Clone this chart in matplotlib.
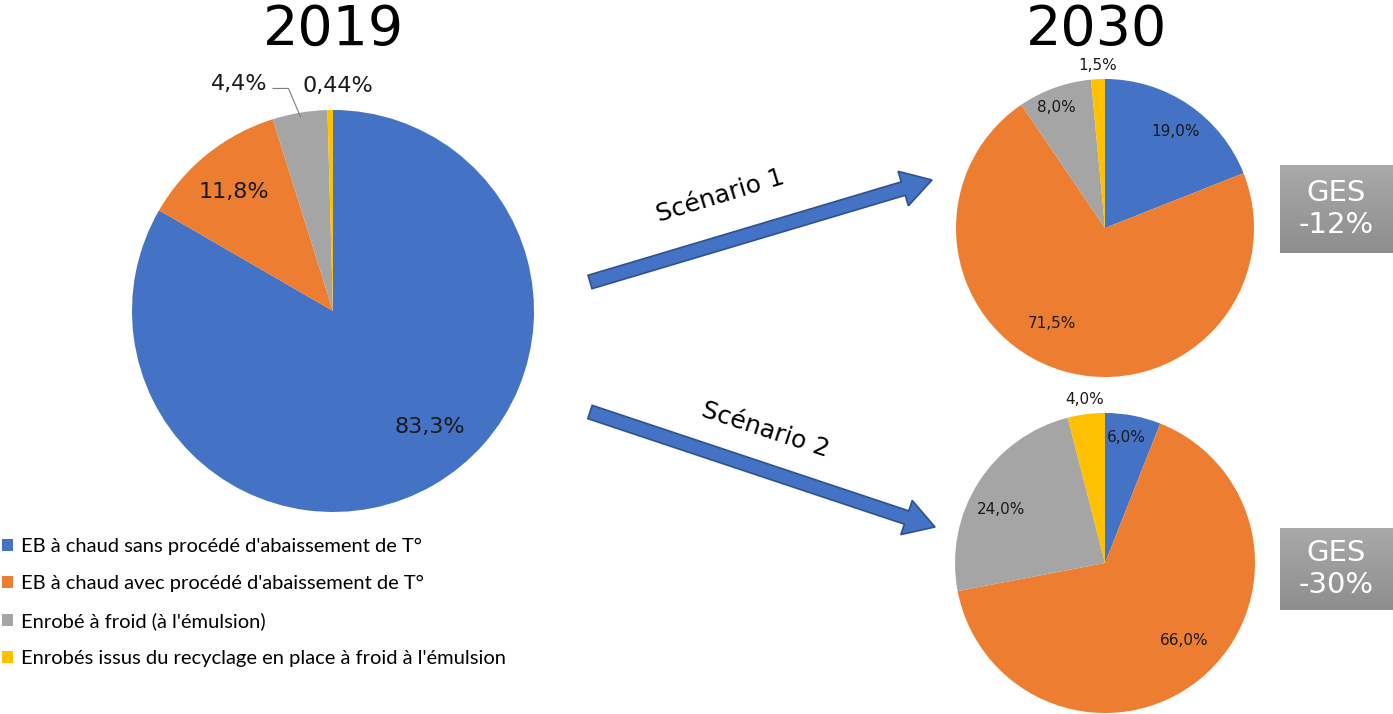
import numpy as np
import matplotlib
matplotlib.use("Agg")
import matplotlib.pyplot as plt
from matplotlib.patches import FancyArrow

# ---------------- data ----------------
categories = [
    "EB à chaud sans procédé d'abaissement de T°",
    "EB à chaud avec procédé d'abaissement de T°",
    "Enrobé à froid (à l'émulsion)",
    "Enrobés issus du recyclage en place à froid à l'émulsion",
]
values_2019 = [83.3, 11.8, 4.4, 0.44]
labels_2019 = ["83,3%", "11,8%", "4,4%", "0,44%"]
values_s1 = [19.0, 71.5, 8.0, 1.5]
labels_s1 = ["19,0%", "71,5%", "8,0%", "1,5%"]
values_s2 = [6.0, 66.0, 24.0, 4.0]
labels_s2 = ["6,0%", "66,0%", "24,0%", "4,0%"]
titles = ["2019", "2030"]
scenarios = ["Scénario 1", "Scénario 2"]
ges = ["GES\n-12%", "GES\n-30%"]

colors = ["#4472C4", "#ED7D31", "#A5A5A5", "#FFC000"]

W, H = 1393, 714
fig = plt.figure(figsize=(W / 100, H / 100), dpi=100)
ax = fig.add_axes([0, 0, 1, 1])

NUM_FONT = ["DejaVu Sans"]
LEG_FONT = ["Lato", "DejaVu Sans"]


def Y(py):
    return H - py


def draw_pie(values, labels, center, radius, label_style, fontsize):
    wedges, _ = ax.pie(values, colors=colors, startangle=90, counterclock=False,
                       center=center, radius=radius,
                       wedgeprops=dict(linewidth=0))
    for w, lab, (dist, dang) in zip(wedges, labels, label_style):
        mid = (w.theta1 + w.theta2) / 2.0 + dang
        x = center[0] + dist * radius * np.cos(np.radians(mid))
        y = center[1] + dist * radius * np.sin(np.radians(mid))
        ax.text(x, y, lab, ha="center", va="center", fontsize=fontsize,
                color="#1a1a1a", family=NUM_FONT)
    return wedges


# 2019 pie
c19 = (333, Y(311))
r19 = 201
w19 = draw_pie(values_2019, ["83,3%", "11,8%", "", "0,44%"], c19, r19,
               [(0.75, 10), (0.77, 1), (1.22, 13), (1.12, -2)], 16)
# outside label with leader line for gray slice
g = w19[2]
gmid = np.radians((g.theta1 + g.theta2) / 2.0)
gx = c19[0] + 0.98 * r19 * np.cos(gmid)
gy = c19[1] + 0.98 * r19 * np.sin(gmid)
tang = np.radians((g.theta1 + g.theta2) / 2.0 + 13)
tx = c19[0] + 1.22 * r19 * np.cos(tang)
ty = c19[1] + 1.22 * r19 * np.sin(tang)
ax.text(tx, ty, labels_2019[2], ha="center", va="center", fontsize=16,
        color="#1a1a1a", family=NUM_FONT)
ax.plot([gx, gx - 12, tx + 34], [gy, ty - 4, ty - 4], color="#7f7f7f", lw=0.8)

# 2030 scenario 1
c1 = (1105, Y(228))
r1 = 149
draw_pie(values_s1, labels_s1, c1, r1,
         [(0.8, -2), (0.73, -12), (0.87, 2), (1.09, 0)], 11)
# 2030 scenario 2
c2 = (1105, Y(563))
r2 = 150
draw_pie(values_s2, labels_s2, c2, r2,
         [(0.85, 1), (0.74, 6), (0.78, 5), (1.1, 0)], 11)

# titles
ax.text(333, Y(30), titles[0], ha="center", va="center", fontsize=40,
        family=NUM_FONT, color="black")
ax.text(1097, Y(30), titles[1], ha="center", va="center", fontsize=40,
        family=NUM_FONT, color="black")

# arrows
arrow_kw = dict(width=14, head_width=36, head_length=30,
                length_includes_head=True, facecolor="#4472C4",
                edgecolor="#2F528F", linewidth=1.2)
ax.add_patch(FancyArrow(590, Y(282), 932 - 590, Y(180) - Y(282), **arrow_kw))
ax.add_patch(FancyArrow(590, Y(412), 935 - 590, Y(527) - Y(412), **arrow_kw))
ax.text(720, Y(196), scenarios[0], ha="center", va="center", fontsize=18,
        rotation=17, family=NUM_FONT, color="black")
ax.text(765, Y(430), scenarios[1], ha="center", va="center", fontsize=18,
        rotation=-18, family=NUM_FONT, color="black")

# GES boxes with gradient
grad = np.linspace(0, 1, 100).reshape(-1, 1)
cmap = matplotlib.colors.LinearSegmentedColormap.from_list("g", ["#a9a9a9", "#8e8e8e"])
for (y0, y1), txt in zip([(165, 253), (528, 610)], ges):
    ax.imshow(grad, extent=(1280, 1393, Y(y1), Y(y0)), cmap=cmap,
              aspect="auto", zorder=1, origin="upper")
    ax.text(1336, Y((y0 + y1) / 2), txt, ha="center", va="center",
            fontsize=21, color="white", family=NUM_FONT, linespacing=1.2,
            zorder=2)

# legend
leg = ax.legend(w19, categories, loc="upper left",
                bbox_to_anchor=(0 / W, 1 - 536 / H), frameon=False,
                prop=dict(family=LEG_FONT, size=14.5), handlelength=0.55,
                handleheight=0.55, handletextpad=0.4, labelspacing=1.0,
                borderaxespad=0, borderpad=0.1)

ax.set_xlim(0, W)
ax.set_ylim(0, H)
ax.set_aspect("equal")
ax.axis("off")

fig.savefig("out.png", dpi=100)
